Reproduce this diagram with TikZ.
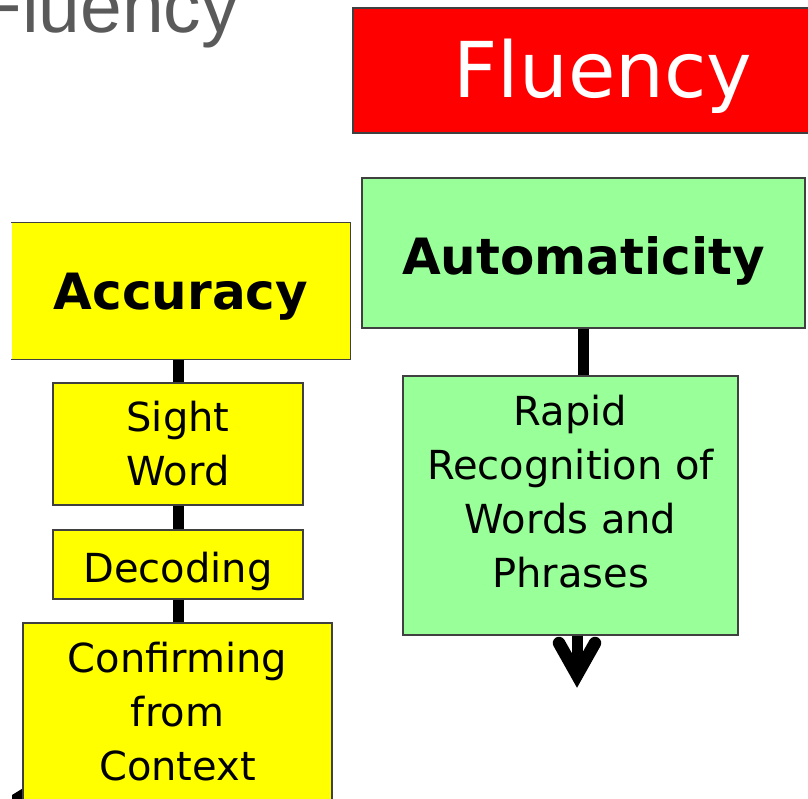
\documentclass[tikz,border=0pt]{standalone}
\usepackage{fontspec}
\usepackage{tikz}
\usetikzlibrary{calc}

\newfontfamily\boxfont{DejaVu Sans}
\newfontfamily\titlefont{Liberation Sans}

\definecolor{boxred}{RGB}{254,0,0}
\definecolor{boxgreen}{RGB}{153,255,153}
\definecolor{boxyellow}{RGB}{255,255,0}
\definecolor{titlegray}{RGB}{90,90,90}

\tikzset{
  boxline/.style={draw=black!75, line width=1.3pt},
  box/.style={boxline, rectangle, inner sep=0pt, align=center, font=\boxfont\fontsize{40}{54}\selectfont},
  headbox/.style={box, font=\boxfont\bfseries\fontsize{50}{60}\selectfont, text depth=0pt},
  link/.style={line width=11pt},
}

\begin{document}
\begin{tikzpicture}[x=1pt, y=-1pt]
        \useasboundingbox (0,0) rectangle (808,799);

        % Slide title
        \node[anchor=base west, inner sep=0pt, text=titlegray, font=\titlefont\fontsize{75}{90}\selectfont] (FluencyTitle) at (-24,33) {Fluency};

        % piece of an arrow at the lower left
        \fill (12,799) -- (12,795) -- (25,787) -- (25,799) -- cycle;

        % Fluency
        \node[box, fill=boxred, text=white, minimum width=500pt, minimum height=125pt, font=\boxfont\fontsize{77}{90}\selectfont, text height=54pt, text depth=0pt] (Fluency) at (603,70.5) {Fluency};

        % Automaticity
        \node[headbox, fill=boxgreen, minimum width=443pt, minimum height=150pt, text height=44pt] (Automaticity) at (583.5,253) {Automaticity};
        \node[box, fill=boxgreen, minimum width=335pt, minimum height=259pt] (Rapid) at (570.5,505.5) {Rapid\\Recognition of\\Words and\\Phrases\rule[-29pt]{0pt}{0pt}};
        \coordinate (Tip) at (577,675);
        \draw[link] (Automaticity.south) -- (Automaticity.south |- Rapid.north);
        \draw[link] (Rapid.south -| Tip) -- (Tip);
        \draw[link, line width=12.5pt, line cap=round, line join=miter] ($(Tip)+(-18,-32)$) -- (Tip) -- ($(Tip)+(18,-32)$);

        % Accuracy
        \node[headbox, draw=none, fill=boxyellow, minimum width=338pt, minimum height=136pt, text height=38pt] (Accuracy) at (181,291) {Accuracy};
        \draw[boxline] (Accuracy.north west) -- (Accuracy.north east) -- (Accuracy.south east) -- (Accuracy.south west);
        \node[box, fill=boxyellow, minimum width=250pt, minimum height=122pt] (SightWord) at (178,444) {Sight\\Word};
        \node[box, fill=boxyellow, minimum width=250pt, minimum height=69pt, text height=35pt, text depth=0pt] (Decoding) at (178,564.5) {Decoding};
        \node[box, fill=boxyellow, minimum width=309pt, minimum height=215.6pt] (Confirming) at (177.5,730.8) {Confirming\\from\\Context\rule[-40pt]{0pt}{0pt}};

        \draw[link] (SightWord.north) -- (SightWord.north |- Accuracy.south);
        \draw[link] (SightWord.south) -- (Decoding.north);
        \draw[link] (Decoding.south) -- (Decoding.south |- Confirming.north);

\end{tikzpicture}
\end{document}
